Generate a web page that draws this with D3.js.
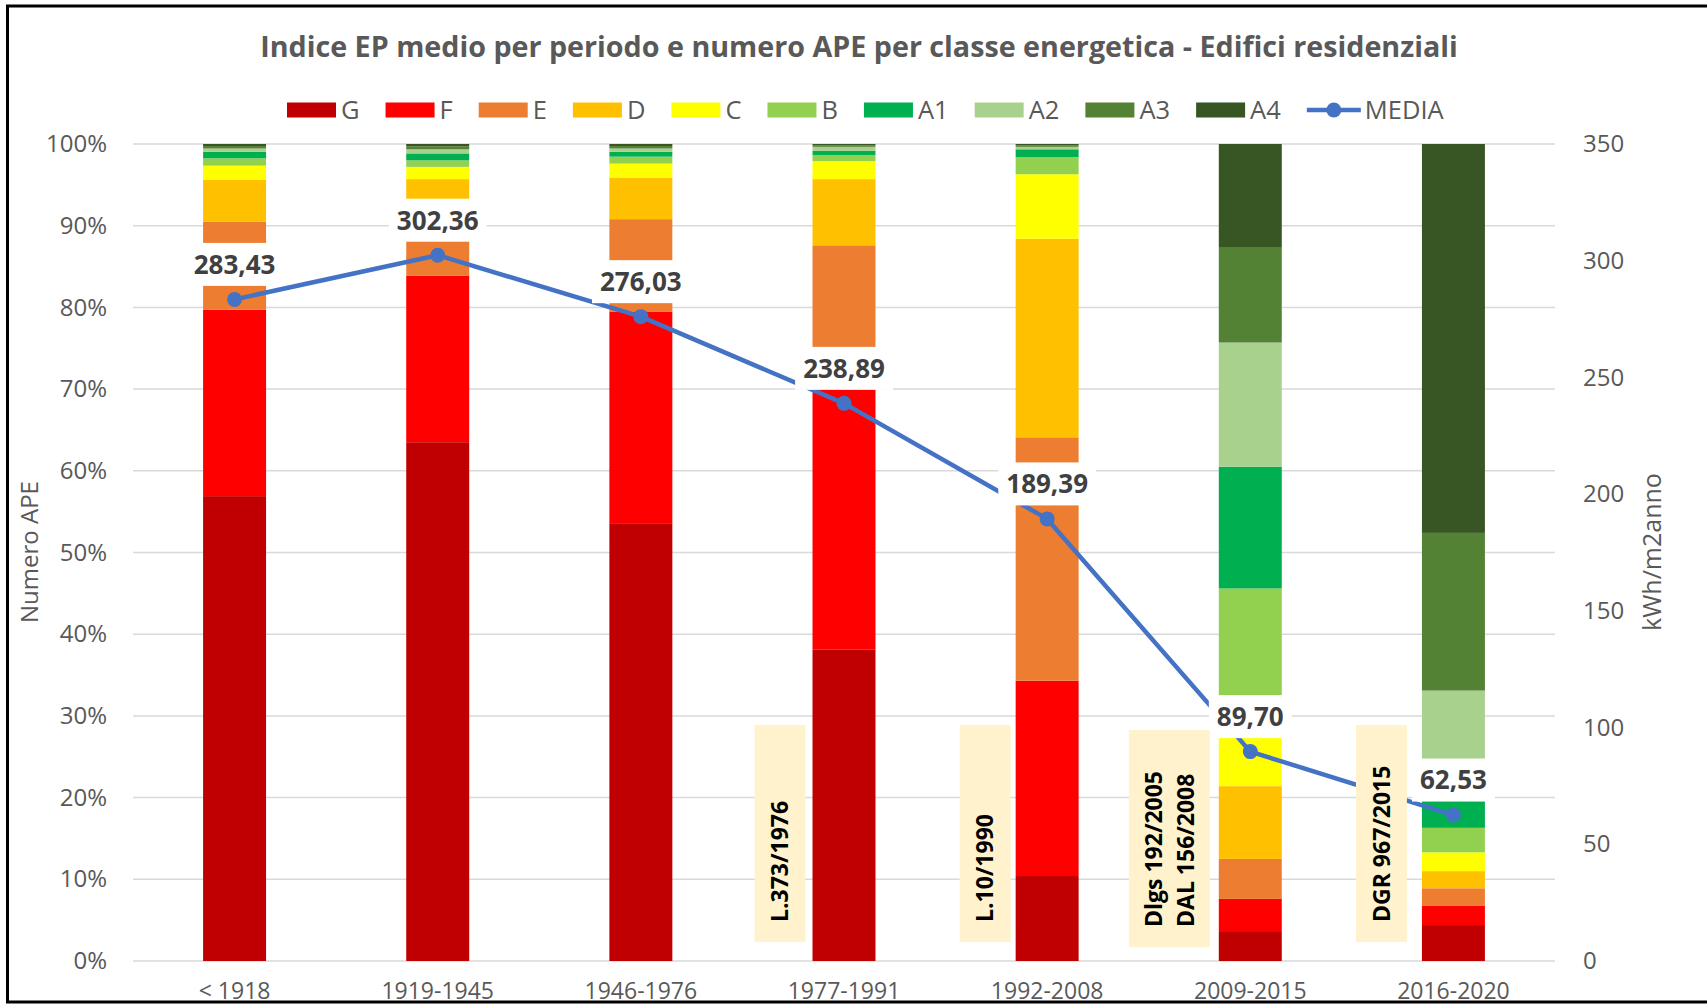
<!DOCTYPE html>
<html>
<head>
<meta charset="utf-8">
<title>Indice EP medio - Edifici residenziali</title>
<script src="https://cdn.jsdelivr.net/npm/d3@7/dist/d3.min.js"></script>
<style>
	body { margin: 0; background: #fff; }
	text { font-family: "Open Sans", sans-serif; }
</style>
</head>
<body>
<div id="chart-area"></div>
<script>
// periods (x categories)
const periods = ["< 1918", "1919-1945", "1946-1976", "1977-1991", "1992-2008", "2009-2015", "2016-2020"]

// energy classes, bottom to top of each stack
const classes = ["G", "F", "E", "D", "C", "B", "A1", "A2", "A3", "A4"]

// share of APE per class (%), one value per period
const pctG  = [56.9, 63.5, 53.5, 38.1, 10.4, 3.55, 4.4]
const pctF  = [22.8, 20.4, 26.0, 34.9, 23.9, 4.05, 2.4]
const pctE  = [10.8, 7.1, 11.3, 14.6, 29.8, 4.9, 2.1]
const pctD  = [5.1, 4.7, 5.1, 8.1, 24.3, 8.9, 2.1]
const pctC  = [1.75, 1.5, 1.7, 2.2, 7.9, 8.6, 2.3]
const pctB  = [0.9, 0.8, 0.85, 0.75, 2.1, 15.6, 3.0]
const pctA1 = [0.8, 0.85, 0.6, 0.5, 0.95, 14.9, 4.7]
const pctA2 = [0.4, 0.5, 0.4, 0.5, 0.3, 15.2, 12.1]
const pctA3 = [0.3, 0.35, 0.3, 0.2, 0.2, 11.6, 19.3]
const pctA4 = [0.25, 0.3, 0.25, 0.15, 0.15, 12.7, 47.6]

// mean EP index per period (kWh/m2anno)
const media = [283.43, 302.36, 276.03, 238.89, 189.39, 89.70, 62.53]

// law references shown next to bars
const notePeriods = ["1977-1991", "1992-2008", "2009-2015", "2016-2020"]
const noteLines = [["L.373/1976"], ["L.10/1990"], ["Dlgs 192/2005", "DAL 156/2008"], ["DGR 967/2015"]]

// axis ticks
const pctTicks = [0, 10, 20, 30, 40, 50, 60, 70, 80, 90, 100]
const epTicks = [0, 50, 100, 150, 200, 250, 300, 350]

const byClass = { G: pctG, F: pctF, E: pctE, D: pctD, C: pctC, B: pctB, A1: pctA1, A2: pctA2, A3: pctA3, A4: pctA4 }
const rows = periods.map((p, i) => {
	const r = { period: p }
	classes.forEach(c => { r[c] = byClass[c][i] })
	return r
})

const MARGIN = { LEFT: 133, RIGHT: 152, TOP: 144, BOTTOM: 45 }
const WIDTH = 1707 - MARGIN.LEFT - MARGIN.RIGHT
const HEIGHT = 1006 - MARGIN.TOP - MARGIN.BOTTOM

const GREY = "#595959"

const svg = d3.select("#chart-area").append("svg")
	.attr("width", 1707)
	.attr("height", 1006)

svg.append("rect")
	.attr("width", 1707).attr("height", 1006)
	.attr("fill", "#fff")

// frame (right side runs off the picture)
svg.append("rect")
	.attr("x", 7.5).attr("y", 6)
	.attr("width", 1760).attr("height", 996)
	.attr("fill", "none")
	.attr("stroke", "#000")
	.attr("stroke-width", 3)

const g = svg.append("g")
	.attr("transform", `translate(${MARGIN.LEFT}, ${MARGIN.TOP})`)

// Scales
const x = d3.scaleBand()
	.domain(periods)
	.range([0, WIDTH])
	.paddingInner(0.69)
	.paddingOuter(0.345)
const y = d3.scaleLinear()
	.domain([0, 100])
	.range([HEIGHT, 0])
const y2 = d3.scaleLinear()
	.domain([0, 350])
	.range([HEIGHT, 0])
const color = d3.scaleOrdinal()
	.domain(classes)
	.range(["#C00000", "#FF0000", "#ED7D31", "#FFC000", "#FFFF00", "#92D050", "#00B050", "#A9D18E", "#548235", "#375623"])
const LINE_COLOR = "#4472C4"

// Title
svg.append("text")
	.attr("x", 859)
	.attr("y", 47)
	.attr("dy", "0.35em")
	.attr("text-anchor", "middle")
	.attr("font-size", "28.7px")
	.attr("font-weight", "bold")
	.attr("fill", GREY)
	.text("Indice EP medio per periodo e numero APE per classe energetica - Edifici residenziali")

// Gridlines
g.append("g")
	.selectAll("line")
	.data(pctTicks)
	.enter().append("line")
	.attr("x1", 0)
	.attr("x2", WIDTH)
	.attr("y1", d => y(d))
	.attr("y2", d => y(d))
	.attr("stroke", "#D9D9D9")
	.attr("stroke-width", 1.5)

// Y axis left
const yAxisCall = d3.axisLeft(y)
	.tickValues(pctTicks)
	.tickFormat(d => d + "%")
	.tickSize(0)
	.tickPadding(26)
const yAxis = g.append("g").call(yAxisCall)
yAxis.select(".domain").remove()
yAxis.selectAll("text")
	.attr("font-family", "'Open Sans', sans-serif")
	.attr("font-size", "24px")
	.attr("fill", GREY)

// Y axis right
const y2AxisCall = d3.axisRight(y2)
	.tickValues(epTicks)
	.tickSize(0)
	.tickPadding(28)
const y2Axis = g.append("g")
	.attr("transform", `translate(${WIDTH}, 0)`)
	.call(y2AxisCall)
y2Axis.select(".domain").remove()
y2Axis.selectAll("text")
	.attr("font-family", "'Open Sans', sans-serif")
	.attr("font-size", "24px")
	.attr("fill", GREY)

// X axis
const xAxisCall = d3.axisBottom(x).tickSize(0).tickPadding(22)
const xAxis = g.append("g")
	.attr("transform", `translate(0, ${HEIGHT})`)
	.call(xAxisCall)
xAxis.select(".domain").remove()
xAxis.selectAll("text")
	.attr("font-family", "'Open Sans', sans-serif")
	.attr("font-size", "23px")
	.attr("fill", GREY)

// Axis titles
g.append("text")
	.attr("transform", "rotate(-90)")
	.attr("x", -(552 - MARGIN.TOP))
	.attr("y", 30 - MARGIN.LEFT)
	.attr("dy", "0.35em")
	.attr("text-anchor", "middle")
	.attr("font-size", "24px")
	.attr("fill", GREY)
	.text("Numero APE")

g.append("text")
	.attr("transform", "rotate(-90)")
	.attr("x", -(552 - MARGIN.TOP))
	.attr("y", 1652 - MARGIN.LEFT)
	.attr("dy", "0.35em")
	.attr("text-anchor", "middle")
	.attr("font-size", "25px")
	.attr("fill", GREY)
	.text("kWh/m2anno")

// Stacked bars
const series = d3.stack().keys(classes)(rows)
g.append("g")
	.selectAll("g")
	.data(series)
	.enter().append("g")
	.attr("fill", d => color(d.key))
	.selectAll("rect")
	.data(d => d)
	.enter().append("rect")
	.attr("x", d => x(d.data.period))
	.attr("width", x.bandwidth())
	.attr("y", d => y(d[1]))
	.attr("height", d => y(d[0]) - y(d[1]))

// MEDIA line
const cx = i => x(periods[i]) + x.bandwidth() / 2
const line = d3.line()
	.x((d, i) => cx(i))
	.y(d => y2(d))
g.append("path")
	.datum(media)
	.attr("fill", "none")
	.attr("stroke", LINE_COLOR)
	.attr("stroke-width", 4.5)
	.attr("stroke-linejoin", "round")
	.attr("d", line)
g.append("g")
	.selectAll("circle")
	.data(media)
	.enter().append("circle")
	.attr("cx", (d, i) => cx(i))
	.attr("cy", d => y2(d))
	.attr("r", 7.5)
	.attr("fill", LINE_COLOR)

// data labels with white box
const itFormat = d3.formatLocale({ decimal: ",", thousands: ".", grouping: [3], currency: ["€", ""] }).format(".2f")
const labels = g.append("g")
	.selectAll("g")
	.data(media)
	.enter().append("g")
	.attr("transform", (d, i) => `translate(${cx(i)}, ${y2(d) - 35})`)
labels.append("rect").attr("fill", "#fff")
labels.append("text")
	.attr("text-anchor", "middle")
	.attr("dy", "0.36em")
	.attr("font-size", "26px")
	.attr("font-weight", "bold")
	.attr("fill", "#404040")
	.text(d => itFormat(d))
labels.each(function() {
	const w = d3.select(this).select("text").node().getComputedTextLength()
	d3.select(this).select("rect")
		.attr("x", -w / 2 - 8).attr("y", -21.5)
		.attr("width", w + 16).attr("height", 43)
})

// law notes
const noteGap = [7, 5, 9, 15]
const noteDrop = [0, 0, 5, 0]
const NOTE_LINE_W = 30
notePeriods.forEach((p, i) => {
	const lines = noteLines[i]
	const boxW = 21 + NOTE_LINE_W * lines.length
	const right = x(p) - noteGap[i]
	const top = 725 - MARGIN.TOP + noteDrop[i]
	const ng = g.append("g")
	ng.append("rect")
		.attr("x", right - boxW)
		.attr("y", top)
		.attr("width", boxW)
		.attr("height", 217)
		.attr("fill", "#FFF2CC")
	lines.forEach((t, j) => {
		const tx = right - boxW / 2 + (j - (lines.length - 1) / 2) * 32
		ng.append("text")
			.attr("transform", `translate(${tx}, ${top + 197}) rotate(-90)`)
			.attr("dy", "0.36em")
			.attr("font-size", "23px")
			.attr("font-weight", "bold")
			.attr("fill", "#000")
			.text(t)
	})
})

// Legend
const legend = svg.append("g")
	.attr("transform", "translate(287, 110)")
let lx = 0
classes.concat(["MEDIA"]).forEach(k => {
	const item = legend.append("g").attr("transform", `translate(${lx}, 0)`)
	if (k === "MEDIA") {
		item.append("line")
			.attr("x1", 0).attr("x2", 54)
			.attr("stroke", LINE_COLOR).attr("stroke-width", 4.5)
		item.append("circle")
			.attr("cx", 27).attr("r", 7.5)
			.attr("fill", LINE_COLOR)
	} else {
		item.append("rect")
			.attr("y", -7.5)
			.attr("width", 49).attr("height", 15)
			.attr("fill", color(k))
	}
	const tx = k === "MEDIA" ? 58 : 54
	const txt = item.append("text")
		.attr("x", tx)
		.attr("dy", "0.36em")
		.attr("font-size", "25.5px")
		.attr("fill", GREY)
		.text(k)
	lx += tx + txt.node().getComputedTextLength() + 26
})
</script>
</body>
</html>
